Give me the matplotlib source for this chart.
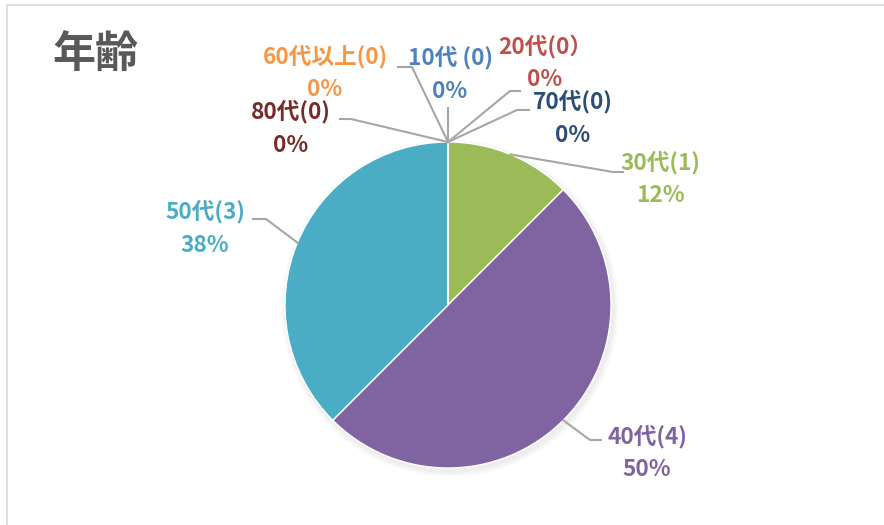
import numpy as np
import matplotlib.pyplot as plt
from matplotlib.patches import Rectangle

plt.rcParams['font.family'] = ['Noto Sans CJK JP', 'DejaVu Sans']

# data
ages = ['10代', '20代', '30代', '40代', '50代', '60代以上', '70代', '80代']
counts = [0, 0, 1, 4, 3, 0, 0, 0]
label_texts = ['10代 (0)', '20代(0）', '30代(1)', '40代(4)', '50代(3)',
               '60代以上(0)', '70代(0)', '80代(0)']
colors = ['#4F81BD', '#C0504D', '#9BBB59', '#8064A2', '#4BACC6',
          '#F79646', '#2C4D75', '#772C2A']

W, H = 884, 525
cx, cy, r = 448, 305, 163

# label layout in pixel coords (text centre, line end at text, elbow)
label_pos = [(450, 58), (545, 47), (660, 163), (647, 437), (205, 212),
             (325, 57), (573, 102), (291, 112)]
line_start = [(448, 108), (520, 91), (623, 172), (601, 440), (253, 219),
              (398, 67), (529, 110), (340, 119)]
line_elbow = [None, (510, 91), (613, 172), (590, 440), (266, 219),
              (412, 67), (517, 110), (351, 119)]


def fy(y):
    return H - y


fig = plt.figure(figsize=(W / 100, H / 100), dpi=100)
ax = fig.add_axes([0, 0, 1, 1])

# soft shadow
for i in range(6):
    ax.add_patch(plt.Circle((cx + 2, fy(cy) - 3), r + 6 - i, color='#000000',
                            alpha=0.012, lw=0))

wedges, _ = ax.pie(counts, colors=colors, startangle=90, counterclock=False,
                   center=(cx, fy(cy)), radius=r,
                   wedgeprops=dict(edgecolor='white', linewidth=1.0))

# pie() resets the limits, so set them afterwards
ax.set_xlim(0, W)
ax.set_ylim(0, H)
ax.set_aspect('equal')
ax.axis('off')

# chart frame
ax.add_patch(Rectangle((7, -10), W, fy(5) + 10, fill=False,
                       edgecolor='#D9D9D9', lw=1.2))

total = sum(counts)
pct = [round(100 * c / total) for c in counts]

for i, w in enumerate(wedges):
    mid = np.deg2rad((w.theta1 + w.theta2) / 2)
    if counts[i] == 0:
        rim = (cx, fy(cy) + r)
    else:
        rim = (cx + r * np.cos(mid), fy(cy) + r * np.sin(mid))
    pts = [line_start[i]]
    if line_elbow[i] is not None:
        pts.append(line_elbow[i])
    xs = [p[0] for p in pts] + [rim[0]]
    ys = [fy(p[1]) for p in pts] + [rim[1]]
    ax.plot(xs, ys, color='#A6A6A6', lw=1.5, zorder=1)

    x, y = label_pos[i]
    ax.text(x, fy(y), label_texts[i], color=colors[i], fontsize=16.3,
            fontweight='bold', ha='center', va='center')
    ax.text(x, fy(y + 33), f'{pct[i]}%', color=colors[i], fontsize=16.3,
            fontweight='bold', ha='center', va='center')

ax.text(95, fy(54), '年齢', color='#595959', fontsize=31, fontweight='bold',
        ha='center', va='center')

fig.savefig('out.png', dpi=100)
